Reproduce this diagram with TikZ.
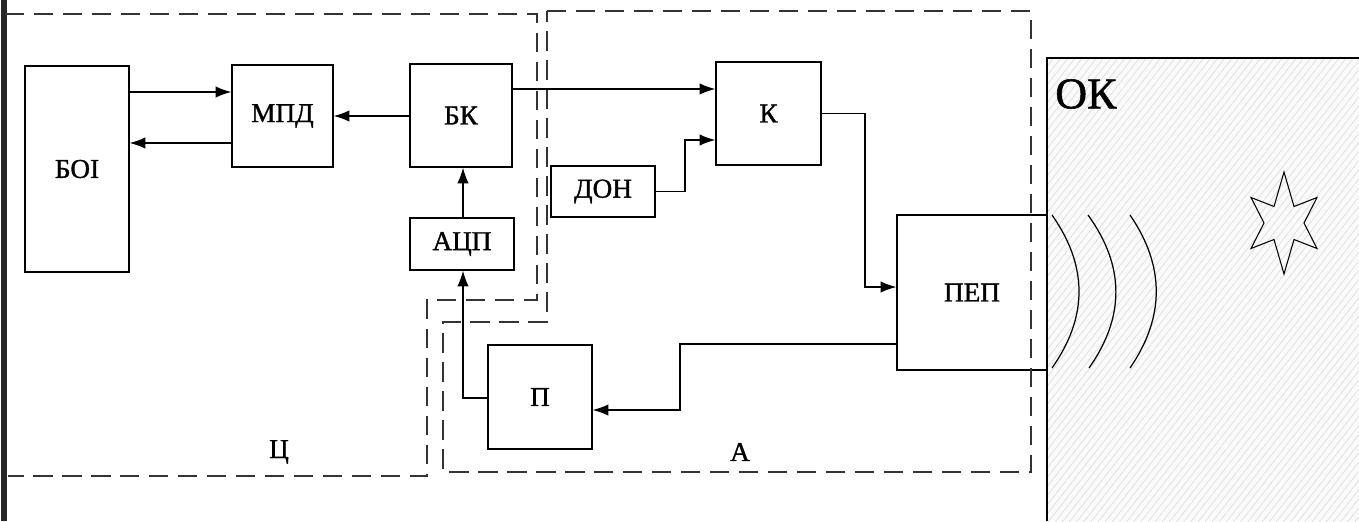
\documentclass[tikz,border=0pt]{standalone}
\usepackage{fontspec}
\setmainfont{Liberation Serif}
\newfontfamily\scanfont[FakeBold=1.2]{Liberation Serif}
\usetikzlibrary{arrows.meta,patterns.meta,calc}
\begin{document}
\begin{tikzpicture}[x=0.02cm,y=-0.02cm,
  blk/.style={draw, line width=0.75pt, inner sep=0pt, font=\scanfont\fontsize{15.5}{17}\selectfont},
  con/.style={line width=0.7pt, -{Latex[length=9pt,width=6.5pt]}},
  zone/.style={line width=0.8pt, dash pattern=on 11pt off 5.5pt, black!80},
  lbl/.style={font=\scanfont\fontsize{15.5}{17}\selectfont},
  wave/.style={line width=0.7pt}]
\useasboundingbox (0,0) rectangle (1359,521);
\fill[white] (0,0) rectangle (1359,521);
% left scan edge
\fill[black!85] (1,0) rectangle (7,521);

% OK region
\fill[gray!4] (1047,58) rectangle (1359,521);
\fill[pattern={Lines[angle=52, distance=3.2pt, line width=0.35pt]}, pattern color=gray!28] (1047,58) rectangle (1359,521);
\draw[line width=0.75pt] (1359,58) -- (1047,58) -- (1047,521);
\node[font=\scanfont\fontsize{25}{27}\selectfont, anchor=west, inner sep=0pt] (ok) at (1055,94) {ОК};

% blocks
\node[blk, minimum width=2.08cm, minimum height=4.12cm] (boi) at (77,169) {БОІ};
\node[blk, minimum width=2.02cm, minimum height=2.04cm] (mpd) at (282.5,116) {МПД};
\node[blk, minimum width=2.04cm, minimum height=2.06cm] (bk) at (461,115.5) {БК};
\node[blk, minimum width=2.08cm, minimum height=1.04cm] (adc) at (462,244) {АЦП};
\node[blk, minimum width=2.08cm, minimum height=1.02cm] (don) at (603,191.5) {ДОН};
\node[blk, minimum width=2.10cm, minimum height=2.06cm] (k) at (768.5,113.5) {К};
\node[blk, minimum width=3.00cm, minimum height=3.10cm] (pep) at (972,292.5) {ПЕП};
\node[blk, minimum width=2.08cm, minimum height=2.08cm] (p) at (540,397) {П};

% zones
\draw[zone] (5,14) -- (537,14) -- (537,300) -- (427,300) -- (427,476) -- (8,476);
\draw[zone] (547,11) -- (1031,11) -- (1031,472) -- (443,472) -- (443,322) -- (547,322) -- cycle;
\node[lbl] (zc) at (279,452) {Ц};
\node[lbl] (za) at (740,452) {А};

% connectors
\draw[con] (boi.east |- 0,92) -- (mpd.west |- 0,92);
\draw[con] (mpd.west |- 0,143) -- (boi.east |- 0,143);
\draw[con] (bk.west |- mpd.east) -- (mpd.east);
\draw[con] (bk.east |- 0,89) -- (k.west |- 0,89);
\draw[con] (don.east) -- (685,191.5) -- (685,140) -- (k.west |- 0,140);
\draw[con] (k.east) -- (865,113.5) -- (865,287) -- (pep.west |- 0,287);
\draw[con] (pep.west |- 0,344) -- (680,344) -- (680,410) -- (p.east |- 0,410);
\draw[con] (p.west |- 0,398) -- (463,398) -- (adc.south -| 463,0);
\draw[con] (adc.north -| 463,0) -- (bk.south -| 463,0);

% waves
\draw[wave] (1052,215) .. controls (1088,266) and (1088,317) .. (1052,368);
\draw[wave] (1088,215) .. controls (1125,266) and (1125,317) .. (1089,368);
\draw[wave] (1130,215) .. controls (1165,266) and (1165,317) .. (1130,368);

% star
\draw[line width=0.6pt] (1284,172) -- (1294,206.5) -- (1317,197.5) -- (1304,223) -- (1317,248.5) -- (1294,239.5)
  -- (1284,274) -- (1274,239.5) -- (1251,248.5) -- (1264,223) -- (1251,197.5) -- (1274,206.5) -- cycle;
\end{tikzpicture}
\end{document}
